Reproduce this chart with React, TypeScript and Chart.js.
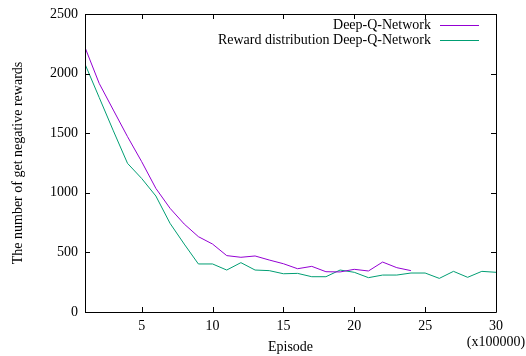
import React, { useEffect, useRef } from 'react';
import { Chart, registerables } from 'chart.js';

Chart.register(...registerables);

const episodes = [1, 2, 3, 4, 5, 6, 7, 8, 9, 10, 11, 12, 13, 14, 15, 16, 17, 18, 19, 20, 21, 22, 23, 24, 25, 26, 27, 28, 29, 30];
const dqnValues = [2220, 1918, 1694, 1471, 1261, 1037, 870, 738, 632, 570, 473, 459, 470, 436, 405, 363, 383, 338, 336, 358, 344, 419, 372, 347];
const rewardDistValues = [2080, 1800, 1520, 1247, 1120, 973, 744, 570, 403, 403, 352, 414, 352, 347, 321, 324, 296, 296, 352, 333, 288, 310, 310, 327, 327, 282, 341, 291, 341, 333];
const xTickValues = [5, 10, 15, 20, 25, 30];
const yTickValues = [0, 500, 1000, 1500, 2000, 2500];
const seriesNames = ['Deep-Q-Network', 'Reward distribution Deep-Q-Network'];
const seriesColors = ['#9400d3', '#009e73'];
const xUnitNote = '(x100000)';

const FONT = "'Liberation Serif', 'Times New Roman', serif";

const framePlugin = {
  id: 'gnuplotFrame',
  afterDraw(chart: any) {
    const { ctx, chartArea } = chart;
    const { left, right, top, bottom } = chartArea;
    const xs = chart.scales.x;
    const ys = chart.scales.y;
    ctx.save();
    ctx.strokeStyle = '#000';
    ctx.lineWidth = 1;
    ctx.beginPath();
    ctx.rect(Math.round(left) + 0.5, Math.round(top) + 0.5, Math.round(right - left), Math.round(bottom - top));
    ctx.stroke();
    const tl = 5;
    ctx.beginPath();
    xTickValues.forEach((v) => {
      const px = Math.round(xs.getPixelForValue(v)) + 0.5;
      ctx.moveTo(px, bottom);
      ctx.lineTo(px, bottom - tl);
      ctx.moveTo(px, top);
      ctx.lineTo(px, top + tl);
    });
    yTickValues.forEach((v) => {
      const py = Math.round(ys.getPixelForValue(v)) + 0.5;
      ctx.moveTo(left, py);
      ctx.lineTo(left + tl, py);
      ctx.moveTo(right, py);
      ctx.lineTo(right - tl, py);
    });
    ctx.stroke();

    // key (legend) in gnuplot style
    ctx.font = `14px ${FONT}`;
    ctx.fillStyle = '#000';
    ctx.textAlign = 'right';
    ctx.textBaseline = 'middle';
    const textRight = right - 65;
    const lineStart = right - 56;
    const lineEnd = right - 17;
    seriesNames.forEach((name, i) => {
      const y = top + 11 + i * 15;
      ctx.fillText(name, textRight, y);
      ctx.strokeStyle = seriesColors[i];
      ctx.lineWidth = 1;
      ctx.beginPath();
      ctx.moveTo(lineStart, Math.round(y) + 0.5);
      ctx.lineTo(lineEnd, Math.round(y) + 0.5);
      ctx.stroke();
    });
    ctx.restore();
  },
};

export default function App() {
  const ref = useRef<HTMLCanvasElement>(null);

  useEffect(() => {
    if (!ref.current) return;
    const chart = new Chart(ref.current, {
      type: 'line',
      data: {
        datasets: [
          {
            label: seriesNames[0],
            data: dqnValues.map((v, i) => ({ x: episodes[i], y: v })),
            borderColor: seriesColors[0],
            backgroundColor: seriesColors[0],
            borderWidth: 1,
            pointRadius: 0,
            tension: 0,
            fill: false,
          },
          {
            label: seriesNames[1],
            data: rewardDistValues.map((v, i) => ({ x: episodes[i], y: v })),
            borderColor: seriesColors[1],
            backgroundColor: seriesColors[1],
            borderWidth: 1,
            pointRadius: 0,
            tension: 0,
            fill: false,
          },
        ],
      },
      options: {
        responsive: false,
        animation: false,
        layout: { padding: { top: 14, right: 30, left: 0, bottom: 0 } },
        plugins: {
          legend: { display: false },
          tooltip: { enabled: false },
        },
        scales: {
          x: {
            type: 'linear',
            min: 1,
            max: 30,
            grid: { display: false, drawTicks: false },
            border: { display: false },
            afterBuildTicks: (s: any) => {
              s.ticks = xTickValues.map((v) => ({ value: v }));
            },
            afterFit: (s: any) => {
              s.height = 44;
              s.paddingLeft = 0;
              s.paddingRight = 0;
            },
            ticks: {
              padding: 6,
              color: '#000',
              maxRotation: 0,
              autoSkip: false,
              font: { family: FONT, size: 14, lineHeight: 1.15 },
              callback: (v: any) => (v === 30 ? [String(v), xUnitNote] : String(v)),
            },
            title: {
              display: true,
              text: 'Episode',
              color: '#000',
              font: { family: FONT, size: 14 },
              padding: { top: 0, bottom: 0 },
            },
          },
          y: {
            type: 'linear',
            min: 0,
            max: 2500,
            grid: { display: false, drawTicks: false },
            border: { display: false },
            afterBuildTicks: (s: any) => {
              s.ticks = yTickValues.map((v) => ({ value: v }));
            },
            afterFit: (s: any) => {
              s.width = 85;
              s.paddingTop = 0;
              s.paddingBottom = 0;
            },
            ticks: {
              padding: 7,
              color: '#000',
              font: { family: FONT, size: 14 },
              callback: (v: any) => String(v),
            },
            title: {
              display: true,
              text: 'The number of get negative rewards',
              color: '#000',
              font: { family: FONT, size: 14 },
              padding: { top: 10, bottom: 0 },
            },
          },
        },
      },
      plugins: [framePlugin],
    } as any);
    return () => chart.destroy();
  }, []);

  return (
    <div style={{ position: 'fixed', left: 0, top: 0, width: 526, height: 356, background: '#fff' }}>
      <canvas ref={ref} width={526} height={356} style={{ display: 'block' }} />
    </div>
  );
}
